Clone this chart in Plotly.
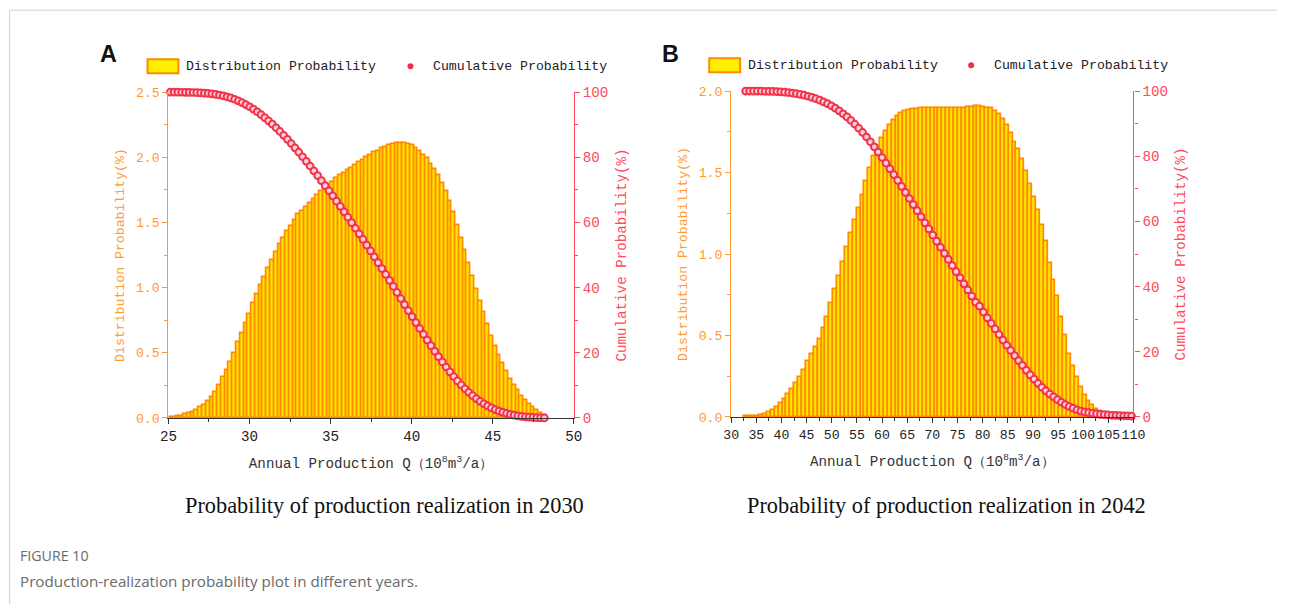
import numpy as np
import plotly.graph_objects as go

# ---------------- data ----------------
# Panel A: annual production probability, 2030 (100 equal bins)
q_range_2030 = (25.0, 48.3)
dist_2030 = [
    0.006, 0.008, 0.011, 0.016, 0.026, 0.034, 0.045, 0.062, 0.079, 0.10,
    0.125, 0.16, 0.20, 0.25, 0.31, 0.37, 0.43, 0.50, 0.58, 0.65,
    0.73, 0.80, 0.88, 0.95, 1.02, 1.08, 1.15, 1.21, 1.27, 1.33,
    1.38, 1.43, 1.47, 1.52, 1.56, 1.59, 1.62, 1.65, 1.68, 1.71,
    1.74, 1.77, 1.79, 1.81, 1.84, 1.86, 1.88, 1.90, 1.92, 1.94,
    1.96, 1.98, 2.00, 2.02, 2.04, 2.05, 2.07, 2.08, 2.09, 2.10,
    2.11, 2.11, 2.11, 2.10, 2.09, 2.07, 2.05, 2.02, 1.99, 1.95,
    1.91, 1.86, 1.80, 1.74, 1.66, 1.58, 1.48, 1.38, 1.29, 1.19,
    1.09, 0.99, 0.90, 0.81, 0.72, 0.63, 0.55, 0.48, 0.42, 0.36,
    0.30, 0.25, 0.21, 0.17, 0.135, 0.105, 0.08, 0.06, 0.04, 0.025,
]
cum_2030 = [
    100.0, 100.0, 99.98, 99.97, 99.95, 99.93, 99.89, 99.84, 99.78, 99.70,
    99.60, 99.48, 99.32, 99.12, 98.88, 98.58, 98.23, 97.82, 97.34, 96.80,
    96.19, 95.52, 94.78, 93.98, 93.11, 92.18, 91.20, 90.17, 89.07, 87.93,
    86.74, 85.50, 84.23, 82.91, 81.56, 80.17, 78.76, 77.32, 75.85, 74.36,
    72.84, 71.30, 69.73, 68.15, 66.54, 64.92, 63.27, 61.61, 59.93, 58.23,
    56.51, 54.78, 53.03, 51.26, 49.47, 47.67, 45.86, 44.04, 42.20, 40.36,
    38.51, 36.65, 34.79, 32.94, 31.10, 29.27, 27.45, 25.67, 23.90, 22.17,
    20.47, 18.81, 17.20, 15.64, 14.15, 12.72, 11.37, 10.12, 8.94, 7.85,
    6.85, 5.93, 5.10, 4.35, 3.68, 3.08, 2.56, 2.11, 1.71, 1.37,
    1.08, 0.84, 0.64, 0.47, 0.33, 0.23, 0.15, 0.09, 0.04, 0.01,
]

# Panel B: annual production probability, 2042 (100 equal bins)
q_range_2042 = (32.5, 110.0)
dist_2042 = [
    0.003, 0.004, 0.005, 0.007, 0.010, 0.017, 0.027, 0.041, 0.060, 0.082,
    0.107, 0.138, 0.173, 0.207, 0.243, 0.285, 0.34, 0.385, 0.43, 0.48,
    0.545, 0.61, 0.70, 0.785, 0.865, 0.95, 1.04, 1.13, 1.21, 1.28,
    1.36, 1.45, 1.53, 1.60, 1.66, 1.71, 1.755, 1.79, 1.82, 1.845,
    1.865, 1.877, 1.885, 1.889, 1.892, 1.894, 1.895, 1.896, 1.896, 1.896,
    1.896, 1.896, 1.896, 1.896, 1.896, 1.896, 1.897, 1.90, 1.904, 1.906,
    1.906, 1.903, 1.898, 1.893, 1.88, 1.86, 1.83, 1.79, 1.745, 1.69,
    1.645, 1.58, 1.51, 1.43, 1.35, 1.27, 1.18, 1.08, 0.945, 0.84,
    0.74, 0.615, 0.50, 0.385, 0.31, 0.245, 0.18, 0.133, 0.098, 0.072,
    0.05, 0.034, 0.024, 0.019, 0.015, 0.013, 0.012, 0.011, 0.010, 0.009,
]
cum_2042 = [
    100.0, 100.0, 99.99, 99.98, 99.98, 99.96, 99.94, 99.91, 99.86, 99.79,
    99.69, 99.57, 99.42, 99.23, 99.01, 98.75, 98.44, 98.08, 97.68, 97.23,
    96.72, 96.15, 95.51, 94.77, 93.96, 93.06, 92.08, 91.01, 89.85, 88.62,
    87.32, 85.93, 84.46, 82.91, 81.30, 79.64, 77.93, 76.18, 74.40, 72.59,
    70.75, 68.91, 67.05, 65.18, 63.32, 61.45, 59.58, 57.70, 55.83, 53.96,
    52.09, 50.21, 48.34, 46.47, 44.60, 42.72, 40.85, 38.97, 37.10, 35.21,
    34.0, 32.2, 30.4, 28.7, 27.0, 25.3, 23.6, 22.0, 20.4, 18.8,
    17.3, 15.8, 14.3, 12.9, 11.6, 10.3, 9.1, 8.0, 7.0, 6.2,
    5.3, 4.5, 3.8, 3.2, 2.7, 2.2, 1.8, 1.5, 1.3, 1.1,
    0.95, 0.8, 0.7, 0.6, 0.5, 0.45, 0.4, 0.35, 0.3, 0.25,
]

x_ticks_2030 = [25, 30, 35, 40, 45, 50]
x_ticks_2042 = list(range(30, 111, 5))

# ---------------- style ----------------
W, H = 1289, 613
BODY_MARGIN = 8            # default <body> margin around the plot div
SX = W / (W + 2 * BODY_MARGIN)   # page -> picture scale, horizontal
SY = H / (H + 2 * BODY_MARGIN)   # page -> picture scale, vertical
FS = 1.015                 # font compensation for that scale
MONO = "Liberation Mono"
SERIF = "Liberation Serif"
SANS = "Liberation Sans"
BAR_FILL = "#FFE600"
BAR_EDGE = "#FF8A00"
ORANGE = "#FF9A2E"
RED = "#FF4A5E"
MARK_EDGE = "#F2334C"
MARK_FILL = "#FFD0D8"
DARK = "#222222"


def px_x(p):
    """Picture column -> paper fraction."""
    return min(max((p / SX - BODY_MARGIN) / W, 0.0), 1.0)


def px_y(p):
    """Picture row (from top) -> paper fraction (from bottom)."""
    return min(max(1 - (p / SY - BODY_MARGIN) / H, 0.0), 1.0)


def fs(size):
    return round(size * FS, 2)


def bins(rng, n):
    lo, hi = rng
    w = (hi - lo) / n
    return lo + w * (np.arange(n) + 0.5), w


fig = go.Figure()

panels = [
    dict(rng=q_range_2030, dist=dist_2030, cum=cum_2030, xa="x", ya="y", ya2="y2"),
    dict(rng=q_range_2042, dist=dist_2042, cum=cum_2042, xa="x2", ya="y3", ya2="y4"),
]
for p in panels:
    xc, w = bins(p["rng"], len(p["dist"]))
    fig.add_trace(go.Bar(
        x=xc, y=p["dist"], width=w,
        marker=dict(color=BAR_FILL, line=dict(color=BAR_EDGE, width=1.7)),
        xaxis=p["xa"], yaxis=p["ya"], showlegend=False,
        name="Distribution Probability",
    ))
    fig.add_trace(go.Scatter(
        x=xc, y=p["cum"], mode="markers",
        marker=dict(symbol="circle", size=6.7, color=MARK_FILL,
                    line=dict(color=MARK_EDGE, width=2)),
        xaxis=p["xa"], yaxis=p["ya2"], showlegend=False, cliponaxis=False,
        name="Cumulative Probability",
    ))

x_title = "Annual Production Q（10<sup>8</sup>m<sup>3</sup>/a）"


def xaxis(domain, rng, ticks, anchor, size):
    return dict(
        domain=domain, range=rng, anchor=anchor, tickmode="array", tickvals=ticks,
        tickangle=0, ticks="outside", ticklen=5, tickcolor="#333", showline=True,
        linecolor="#333", linewidth=1, showgrid=False, zeroline=False,
        minor=dict(dtick=2.5, ticks="outside", ticklen=3, tickcolor="#333", showgrid=False),
        tickfont=dict(family=MONO, size=fs(size), color=DARK),
        title=dict(text=x_title, font=dict(family=MONO, size=fs(14), color="#333"), standoff=14),
    )


def yleft(domain, rng, dtick, minor, anchor, title):
    return dict(
        domain=domain, range=rng, anchor=anchor, dtick=dtick, tickformat=".1f",
        ticks="outside", ticklen=5, tickcolor=ORANGE, showline=True, linecolor=ORANGE,
        linewidth=1.2, showgrid=False, zeroline=False,
        minor=dict(dtick=minor, ticks="outside", ticklen=3, tickcolor=ORANGE, showgrid=False),
        tickfont=dict(family=MONO, size=fs(13), color=ORANGE),
        title=dict(text=title, font=dict(family=MONO, size=fs(13), color=ORANGE), standoff=8),
    )


def yright(overlay, anchor, title):
    return dict(
        overlaying=overlay, side="right", anchor=anchor, range=[0, 100], dtick=20,
        ticks="outside", ticklen=5, tickcolor=RED, showline=True, linecolor=RED,
        linewidth=1.2, showgrid=False, zeroline=False,
        minor=dict(dtick=10, ticks="outside", ticklen=3, tickcolor=RED, showgrid=False),
        tickfont=dict(family=MONO, size=fs(14), color=RED),
        title=dict(text=title, font=dict(family=MONO, size=fs(14), color=RED), standoff=8),
    )


ydom_a = [px_y(419), px_y(93)]
ydom_b = [px_y(418), px_y(92)]

fig.update_layout(
    width=W, height=H, margin=dict(l=0, r=0, t=0, b=0),
    paper_bgcolor="white", plot_bgcolor="white", bargap=0, showlegend=False,
    xaxis=xaxis([px_x(168), px_x(575)], [25, 50], x_ticks_2030, "y", 14),
    yaxis=yleft(ydom_a, [0, 2.5], 0.5, 0.25, "x", "Distribution Probability(%)"),
    yaxis2=yright("y", "x", "Cumulative Probability(%)"),
    xaxis2=xaxis([px_x(733), px_x(1137)], [30, 110], x_ticks_2042, "y3", 13),
    yaxis3=yleft(ydom_b, [0, 2.0], 0.5, 0.25, "x2", "Distribution Probability(%)"),
    yaxis4=yright("y3", "x2", "Cumulative Probability(%)"),
)

shapes = []
annotations = []

# outer frame of the figure
fx = max(px_x(6), 0.0005)
shapes.append(dict(type="line", xref="paper", yref="paper", x0=fx, x1=1.0,
                   y0=px_y(11), y1=px_y(11), line=dict(color="#cfcfcf", width=1)))
shapes.append(dict(type="line", xref="paper", yref="paper", x0=fx, x1=fx,
                   y0=0, y1=px_y(11), line=dict(color="#cfcfcf", width=1)))

# hand-built legends and panel labels
legend_pos = [(147, 67, 411, "A", 108, 2030, 385), (711, 66, 974, "B", 672, 2042, 949)]
for sx, ly, mx, letter, lx, year, cx in legend_pos:
    shapes.append(dict(type="rect", xref="paper", yref="paper",
                       x0=px_x(sx), x1=px_x(sx + 31), y0=px_y(ly + 7), y1=px_y(ly - 7),
                       fillcolor="#FFF000", line=dict(color=BAR_EDGE, width=2)))
    shapes.append(dict(type="circle", xref="paper", yref="paper",
                       x0=px_x(mx - 3), x1=px_x(mx + 3), y0=px_y(ly + 3), y1=px_y(ly - 3),
                       fillcolor="#F0304A", line=dict(color="#F0304A", width=0)))
    annotations.append(dict(text="Distribution Probability", xref="paper", yref="paper",
                            x=px_x(sx + 37), y=px_y(ly), xanchor="left", yanchor="middle",
                            showarrow=False, font=dict(family=MONO, size=fs(13), color=DARK)))
    annotations.append(dict(text="Cumulative Probability", xref="paper", yref="paper",
                            x=px_x(mx + 21), y=px_y(ly), xanchor="left", yanchor="middle",
                            showarrow=False, font=dict(family=MONO, size=fs(13), color=DARK)))
    annotations.append(dict(text="<b>%s</b>" % letter, xref="paper", yref="paper",
                            x=px_x(lx), y=px_y(55), xanchor="center", yanchor="middle",
                            showarrow=False, font=dict(family=SANS, size=fs(23), color="#111")))
    annotations.append(dict(text="Probability of production realization in %d" % year,
                            xref="paper", yref="paper", x=px_x(cx), y=px_y(507),
                            xanchor="center", yanchor="middle", showarrow=False,
                            font=dict(family=SERIF, size=fs(22), color="#111")))

annotations.append(dict(text="FIGURE 10", xref="paper", yref="paper", x=px_x(17), y=px_y(557),
                        xanchor="left", yanchor="middle", showarrow=False,
                        font=dict(family="Open Sans", size=fs(14), color="#6a6a6a")))
annotations.append(dict(text="Production-realization probability plot in different years.",
                        xref="paper", yref="paper", x=px_x(17), y=px_y(582),
                        xanchor="left", yanchor="middle", showarrow=False,
                        font=dict(family="Open Sans", size=fs(15), color="#6a6a6a")))

fig.update_layout(shapes=shapes, annotations=annotations)
fig.write_html("out.html")
